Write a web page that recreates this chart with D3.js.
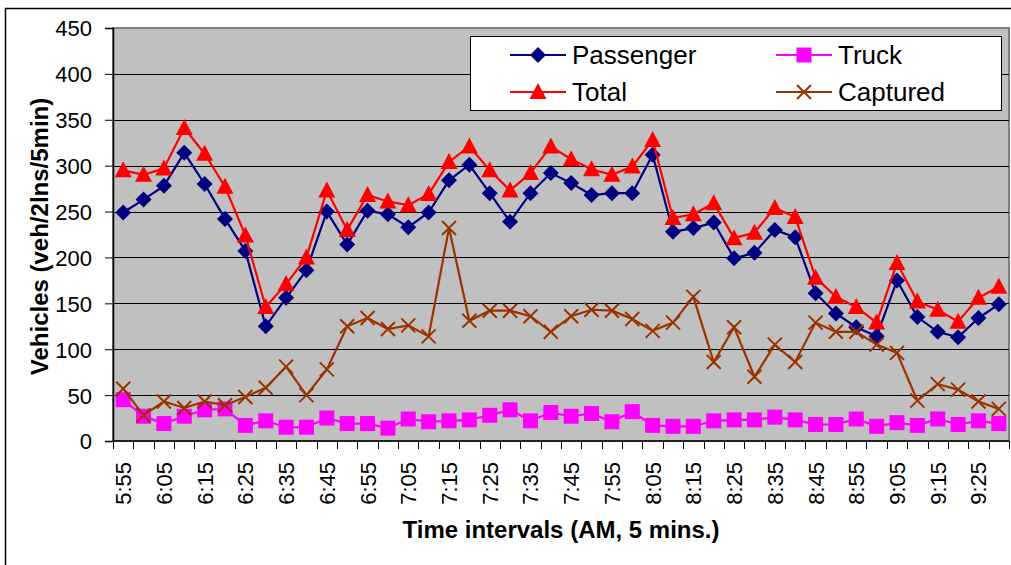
<!DOCTYPE html>
<html>
<head>
<meta charset="utf-8">
<script src="https://cdn.jsdelivr.net/npm/d3@7"></script>
<style>
  body { margin: 0; background: #fff; }
  svg { display: block; font-family: Arial, "Liberation Sans", sans-serif; }
</style>
</head>
<body>
<div id="chart"></div>
<script>
// time intervals (AM, 5 min)
var times = ["5:55","6:00","6:05","6:10","6:15","6:20","6:25","6:30","6:35","6:40",
  "6:45","6:50","6:55","7:00","7:05","7:10","7:15","7:20","7:25","7:30",
  "7:35","7:40","7:45","7:50","7:55","8:00","8:05","8:10","8:15","8:20",
  "8:25","8:30","8:35","8:40","8:45","8:50","8:55","9:00","9:05","9:10",
  "9:15","9:20","9:25","9:30"];

var passenger = [249,263,278,314,280,242,207,125,156,186,
  250,214,251,247,233,249,284,301,270,239,
  270,292,281,268,270,270,312,228,232,238,
  199,205,230,222,161,139,124,114,175,135,
  119,113,134,149];

var truck = [45,27,19,27,34,35,17,22,15,15,
  25,19,19,14,24,21,22,23,28,34,
  22,31,27,30,21,32,17,16,16,22,
  23,23,26,23,18,18,24,16,20,17,
  24,18,22,19];

var total = [295,290,297,341,313,277,224,146,171,200,
  273,230,268,261,257,269,304,321,295,273,
  292,321,307,296,290,299,328,243,247,259,
  221,227,254,244,178,157,146,129,194,152,
  143,130,156,168];

var captured = [57,28,43,36,43,39,48,58,81,50,
  78,125,134,122,126,114,232,131,142,142,
  136,119,136,143,142,133,120,129,157,86,
  124,70,105,86,129,119,119,105,96,44,
  62,56,43,35];

var yTicks = [0,50,100,150,200,250,300,350,400,450];

var series = [
  {name: "Passenger", values: passenger, color: "#000080", marker: "diamond"},
  {name: "Truck", values: truck, color: "#FF00FF", marker: "square"},
  {name: "Total", values: total, color: "#FF0000", marker: "triangle"},
  {name: "Captured", values: captured, color: "#993300", marker: "cross"}
];

var W = 1011, H = 565;
var plot = {left: 113, right: 1009, top: 28, bottom: 441};

var svg = d3.select("#chart")
  .append("svg")
    .attr("width", W)
    .attr("height", H);

// outer chart border
svg.append("rect")
  .attr("x", 5.5).attr("y", 8.5)
  .attr("width", W + 20).attr("height", H + 20)
  .attr("fill", "#fff")
  .attr("stroke", "#000")
  .attr("stroke-width", 1.5);

var x = d3.scaleBand()
  .domain(times)
  .range([plot.left, plot.right])
  .padding(0);

var y = d3.scaleLinear()
  .domain([0, 450])
  .range([plot.bottom, plot.top]);

function cx(i) { return x(times[i]) + x.bandwidth() / 2; }

// plot background
svg.append("rect")
  .attr("x", plot.left).attr("y", plot.top)
  .attr("width", plot.right - plot.left)
  .attr("height", plot.bottom - plot.top)
  .attr("fill", "#C0C0C0")
  .attr("stroke", "#808080")
  .attr("stroke-width", 2);

// gridlines
svg.append("g")
  .selectAll("line")
  .data(yTicks.slice(1, -1))
  .enter()
  .append("line")
    .attr("x1", plot.left).attr("x2", plot.right)
    .attr("y1", d => Math.round(y(d)) + 0.5)
    .attr("y2", d => Math.round(y(d)) + 0.5)
    .attr("stroke", "#000")
    .attr("stroke-width", 1);

// Y axis
var yAxis = svg.append("g")
  .attr("transform", "translate(" + plot.left + ",0)")
  .call(d3.axisLeft(y).tickValues(yTicks).tickSize(8).tickPadding(13));
yAxis.select(".domain").attr("stroke", "#000").attr("stroke-width", 1.5);
yAxis.selectAll(".tick line").attr("stroke", "#000");
yAxis.selectAll("text")
  .style("font-size", "22px")
  .style("font-family", "Arial, 'Liberation Sans', sans-serif")
  .attr("fill", "#000")
  .attr("dy", "0.36em");

// X axis: tick marks at category boundaries
var xAxis = svg.append("g")
  .attr("transform", "translate(0," + plot.bottom + ")");
xAxis.append("line")
  .attr("x1", plot.left).attr("x2", plot.right)
  .attr("y1", 0).attr("y2", 0)
  .attr("stroke", "#000").attr("stroke-width", 1.5);
xAxis.selectAll(".bt")
  .data(times.concat(["end"]))
  .enter()
  .append("line")
    .attr("x1", (d, i) => Math.round(i < times.length ? x(d) : plot.right) + 0.5)
    .attr("x2", (d, i) => Math.round(i < times.length ? x(d) : plot.right) + 0.5)
    .attr("y1", 0).attr("y2", 8)
    .attr("stroke", "#000");

// X labels, every other one, rotated
xAxis.selectAll(".xl")
  .data(times.filter((d, i) => i % 2 === 0))
  .enter()
  .append("text")
    .attr("transform", d => "translate(" + (x(d) + x.bandwidth() / 2 + 8) + ",21) rotate(-90)")
    .attr("text-anchor", "end")
    .style("font-size", "22px")
    .text(d => d);

// lines and markers
var line = d3.line()
  .x((d, i) => cx(i))
  .y(d => y(d));

function drawMarker(g, type, color, px, py) {
  if (type === "diamond") {
    g.append("path")
      .attr("d", "M" + px + "," + (py - 8) + "L" + (px + 8) + "," + py + "L" + px + "," + (py + 8) + "L" + (px - 8) + "," + py + "Z")
      .attr("fill", color);
  } else if (type === "square") {
    g.append("rect")
      .attr("x", px - 7.5).attr("y", py - 7.5)
      .attr("width", 15).attr("height", 15)
      .attr("fill", color);
  } else if (type === "triangle") {
    g.append("path")
      .attr("d", "M" + px + "," + (py - 9) + "L" + (px + 8.5) + "," + (py + 7) + "L" + (px - 8.5) + "," + (py + 7) + "Z")
      .attr("fill", color);
  } else if (type === "cross") {
    g.append("path")
      .attr("d", "M" + (px - 7) + "," + (py - 7) + "L" + (px + 7) + "," + (py + 7) + "M" + (px + 7) + "," + (py - 7) + "L" + (px - 7) + "," + (py + 7))
      .attr("stroke", color)
      .attr("stroke-width", 2)
      .attr("fill", "none");
  }
}

// draw order: Passenger, Truck, Total, Captured
series.forEach(function(s) {
  var g = svg.append("g");
  g.append("path")
    .datum(s.values)
    .attr("d", line)
    .attr("fill", "none")
    .attr("stroke", s.color)
    .attr("stroke-width", 2.2);
  s.values.forEach(function(v, i) {
    drawMarker(g, s.marker, s.color, cx(i), y(v));
  });
});

// Legend
var legend = svg.append("g");
legend.append("rect")
  .attr("x", 470.5).attr("y", 36.5)
  .attr("width", 531).attr("height", 74)
  .attr("fill", "#fff")
  .attr("stroke", "#000")
  .attr("stroke-width", 1);

var legendPos = [
  {s: series[0], x: 510, y: 55},
  {s: series[1], x: 776, y: 55},
  {s: series[2], x: 510, y: 92},
  {s: series[3], x: 776, y: 92}
];
legendPos.forEach(function(p) {
  var g = legend.append("g");
  g.append("line")
    .attr("x1", p.x).attr("x2", p.x + 56)
    .attr("y1", p.y).attr("y2", p.y)
    .attr("stroke", p.s.color)
    .attr("stroke-width", 2);
  drawMarker(g, p.s.marker, p.s.color, p.x + 28, p.y);
  g.append("text")
    .attr("x", p.x + 62)
    .attr("y", p.y + 9)
    .style("font-size", "26px")
    .text(p.s.name);
});

// X axis title
svg.append("text")
  .attr("x", (plot.left + plot.right) / 2)
  .attr("y", 538)
  .attr("text-anchor", "middle")
  .style("font-size", "24px")
  .style("font-weight", "bold")
  .text("Time intervals (AM, 5 mins.)");

// Y axis title
svg.append("text")
  .attr("transform", "translate(48," + ((plot.top + plot.bottom) / 2 + 2) + ") rotate(-90)")
  .attr("text-anchor", "middle")
  .style("font-size", "24px")
  .style("font-weight", "bold")
  .text("Vehicles (veh/2lns/5min)");
</script>
</body>
</html>
